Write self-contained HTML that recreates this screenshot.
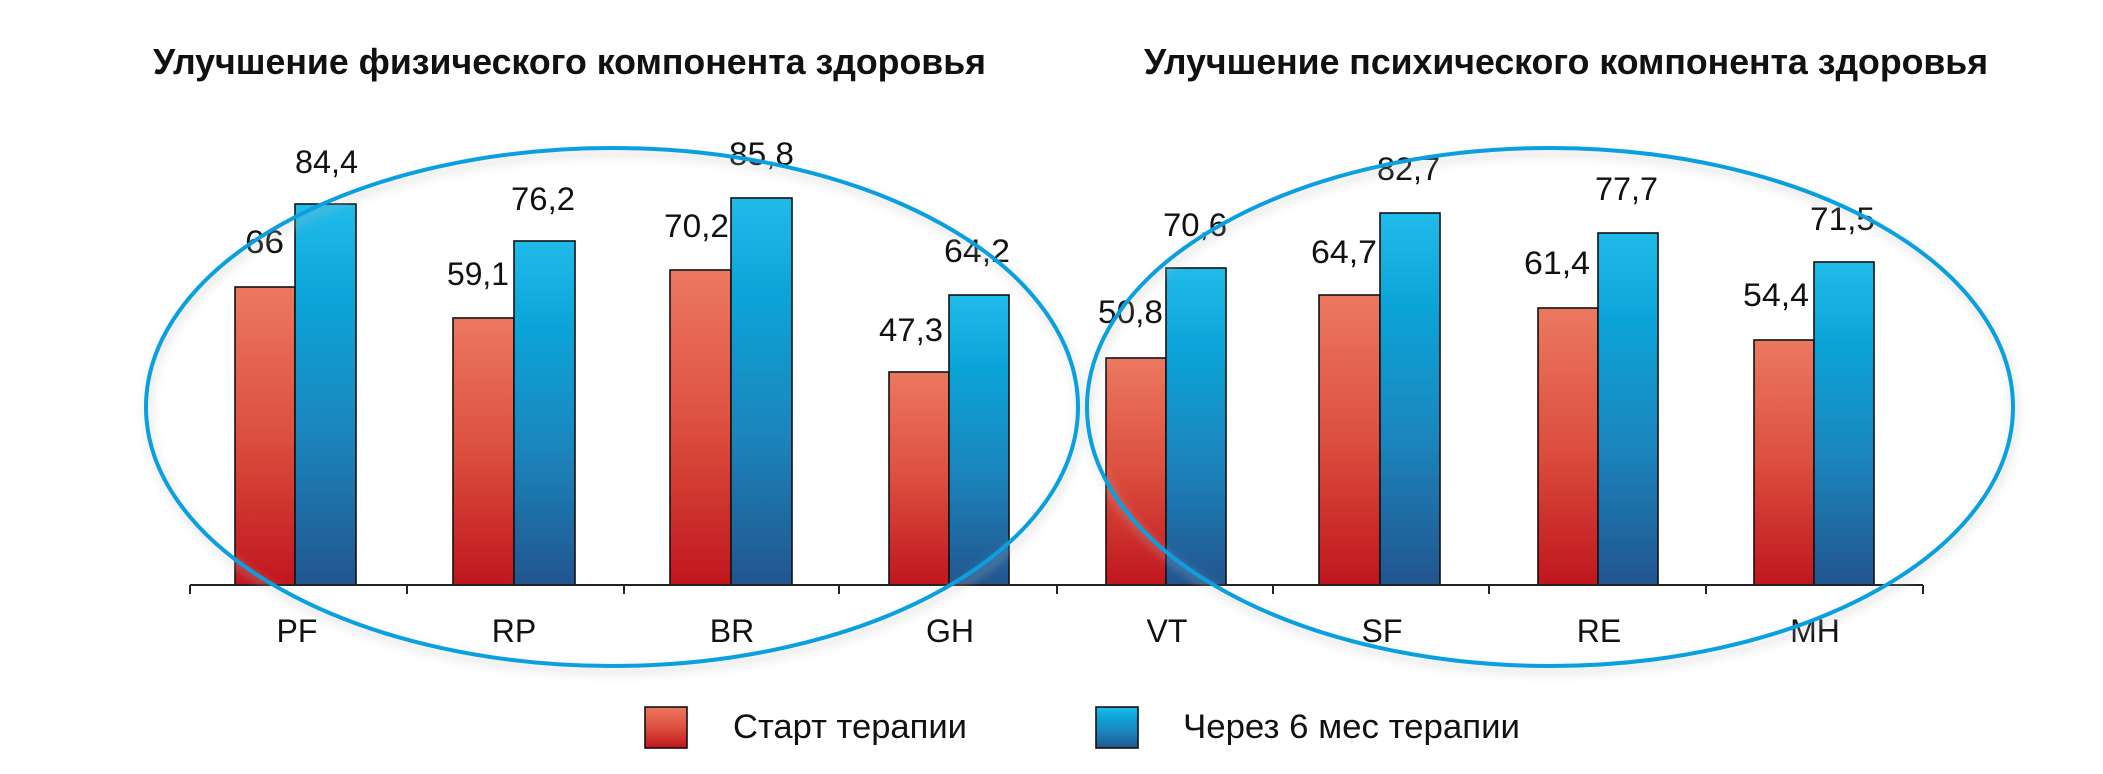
<!DOCTYPE html>
<html><head><meta charset="utf-8"><style>html,body{margin:0;padding:0;background:#fff}svg{display:block}</style></head><body>
<svg width="2103" height="774" viewBox="0 0 2103 774" xmlns="http://www.w3.org/2000/svg" font-family="Liberation Sans, sans-serif">
<defs>
<linearGradient id="r" x1="0" y1="0" x2="0" y2="1"><stop offset="0" stop-color="#ec7860"/><stop offset="0.5" stop-color="#dc4f3e"/><stop offset="1" stop-color="#c0161e"/></linearGradient>
<linearGradient id="b" x1="0" y1="0" x2="0" y2="1"><stop offset="0" stop-color="#20bbea"/><stop offset="0.25" stop-color="#0ba4d8"/><stop offset="0.6" stop-color="#1b86bd"/><stop offset="1" stop-color="#22558f"/></linearGradient>
<filter id="sh" x="-10%" y="-10%" width="120%" height="130%"><feGaussianBlur stdDeviation="5"/></filter>
</defs>
<g font-weight="bold" font-size="36" fill="#111">
<text x="153" y="74" textLength="833" lengthAdjust="spacingAndGlyphs">Улучшение физического компонента здоровья</text>
<text x="1144" y="74" textLength="844" lengthAdjust="spacingAndGlyphs">Улучшение психического компонента здоровья</text>
</g>
<g stroke="#111" stroke-width="1.6">
<rect x="235" y="287" width="60" height="298" fill="url(#r)"/><rect x="295" y="204" width="61" height="381" fill="url(#b)"/>
<rect x="453" y="318" width="61" height="267" fill="url(#r)"/><rect x="514" y="241" width="61" height="344" fill="url(#b)"/>
<rect x="670" y="270" width="61" height="315" fill="url(#r)"/><rect x="731" y="198" width="61" height="387" fill="url(#b)"/>
<rect x="889" y="372" width="60" height="213" fill="url(#r)"/><rect x="949" y="295" width="60" height="290" fill="url(#b)"/>
<rect x="1106" y="358" width="60" height="227" fill="url(#r)"/><rect x="1166" y="268" width="60" height="317" fill="url(#b)"/>
<rect x="1319" y="295" width="61" height="290" fill="url(#r)"/><rect x="1380" y="213" width="60" height="372" fill="url(#b)"/>
<rect x="1538" y="308" width="60" height="277" fill="url(#r)"/><rect x="1598" y="233" width="60" height="352" fill="url(#b)"/>
<rect x="1754" y="340" width="60" height="245" fill="url(#r)"/><rect x="1814" y="262" width="60" height="323" fill="url(#b)"/>
</g>
<g stroke="#222" stroke-width="2" fill="none">
<line x1="190" y1="585" x2="1923" y2="585"/>
<path d="M190 585V594M407 585V594M624 585V594M839 585V594M1057 585V594M1273 585V594M1489 585V594M1706 585V594M1923 585V594"/>
</g>
<g font-size="32" fill="#111">
<text x="245" y="253" textLength="39" lengthAdjust="spacingAndGlyphs">66</text>
<text x="295" y="173" textLength="63" lengthAdjust="spacingAndGlyphs">84,4</text>
<text x="447" y="285" textLength="62" lengthAdjust="spacingAndGlyphs">59,1</text>
<text x="511" y="210" textLength="64" lengthAdjust="spacingAndGlyphs">76,2</text>
<text x="664" y="237" textLength="65" lengthAdjust="spacingAndGlyphs">70,2</text>
<text x="729" y="165" textLength="65" lengthAdjust="spacingAndGlyphs">85,8</text>
<text x="879" y="341" textLength="64" lengthAdjust="spacingAndGlyphs">47,3</text>
<text x="944" y="262" textLength="66" lengthAdjust="spacingAndGlyphs">64,2</text>
<text x="1098" y="323" textLength="65" lengthAdjust="spacingAndGlyphs">50,8</text>
<text x="1163" y="236" textLength="64" lengthAdjust="spacingAndGlyphs">70,6</text>
<text x="1311" y="263" textLength="66" lengthAdjust="spacingAndGlyphs">64,7</text>
<text x="1377" y="180" textLength="63" lengthAdjust="spacingAndGlyphs">82,7</text>
<text x="1524" y="274" textLength="66" lengthAdjust="spacingAndGlyphs">61,4</text>
<text x="1595" y="200" textLength="63" lengthAdjust="spacingAndGlyphs">77,7</text>
<text x="1743" y="306" textLength="66" lengthAdjust="spacingAndGlyphs">54,4</text>
<text x="1810" y="230" textLength="65" lengthAdjust="spacingAndGlyphs">71,5</text>
</g>
<g font-size="32" fill="#111" text-anchor="middle">
<text x="297" y="642">PF</text><text x="514" y="642">RP</text><text x="732" y="642">BR</text><text x="950" y="642">GH</text>
<text x="1167" y="642">VT</text><text x="1382" y="642">SF</text><text x="1599" y="642">RE</text><text x="1815" y="642">MH</text>
</g>
<g fill="none">
<ellipse cx="614" cy="412" rx="466" ry="259" stroke="#bbb" stroke-width="5" opacity="0.5" filter="url(#sh)"/>
<ellipse cx="1552" cy="412" rx="463" ry="259" stroke="#bbb" stroke-width="5" opacity="0.5" filter="url(#sh)"/>
<ellipse cx="612" cy="407" rx="466" ry="259" stroke="#0aa0e0" stroke-width="4"/>
<ellipse cx="1550" cy="407" rx="463" ry="259" stroke="#0aa0e0" stroke-width="4"/>
</g>
<rect x="645" y="707" width="42" height="41" fill="url(#r)" stroke="#111" stroke-width="1.6"/>
<rect x="1096" y="707" width="42" height="41" fill="url(#b)" stroke="#111" stroke-width="1.6"/>
<g font-size="34" fill="#111">
<text x="733" y="738" textLength="234" lengthAdjust="spacingAndGlyphs">Старт терапии</text>
<text x="1183" y="738" textLength="337" lengthAdjust="spacingAndGlyphs">Через 6 мес терапии</text>
</g>
</svg>
</body></html>
